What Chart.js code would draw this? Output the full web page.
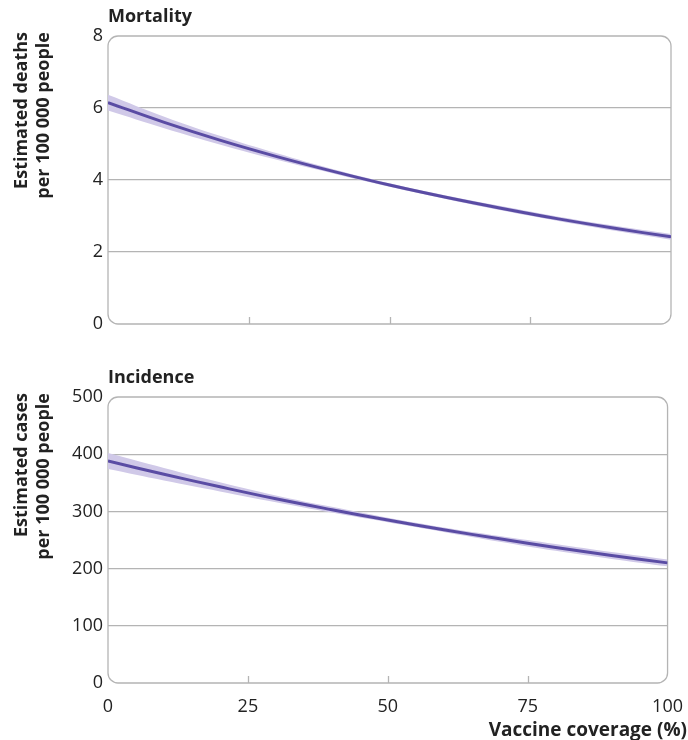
<!DOCTYPE html>
<html>
<head>
<meta charset="utf-8">
<script src="https://cdn.jsdelivr.net/npm/chart.js@4"></script>
<style>
  body { margin: 0; background: #fff; }
  #wrap { position: relative; width: 688px; height: 740px; }
  canvas { position: absolute; left: 0; }
  #mortality { top: 0; }
  #incidence { top: 360px; }
</style>
</head>
<body>
<div id="wrap">
  <canvas id="mortality" width="688" height="360"></canvas>
  <canvas id="incidence" width="688" height="380"></canvas>
</div>
<script>
// ===== Data =====
const coverage = [0, 10, 20, 30, 40, 50, 60, 70, 80, 90, 100];
const xTicks = [0, 25, 50, 75, 100];

const deaths      = [6.15, 5.60, 5.10, 4.65, 4.24, 3.86, 3.52, 3.21, 2.92, 2.66, 2.42];
const deathsLower = [5.93, 5.44, 4.98, 4.56, 4.18, 3.81, 3.47, 3.15, 2.86, 2.59, 2.34];
const deathsUpper = [6.37, 5.76, 5.22, 4.74, 4.30, 3.91, 3.57, 3.27, 2.98, 2.73, 2.50];

const cases      = [388, 365, 343, 322, 303, 285, 268, 252, 237, 223, 210];
const casesLower = [374, 354, 335, 316, 298, 281, 264, 247, 231, 217, 204];
const casesUpper = [402, 376, 351, 328, 308, 289, 272, 257, 243, 229, 216];

const deathTicks = [0, 2, 4, 6, 8];
const caseTicks = [0, 100, 200, 300, 400, 500];

const LINE = '#5a4ca4';
const BAND = '#d0c9e8';
const FRAME = '#b4b4b4';
const TEXT = '#222';
const FONT = '"Open Sans", "Noto Sans", sans-serif';

const toPoints = (ys) => coverage.map((x, i) => ({ x: x, y: ys[i] }));

// Rounded frame, inner tick marks, panel title and y axis title
const panelDecor = {
    id: 'panelDecor',
    beforeDatasetsDraw(chart, args, opts) {
        const { ctx, chartArea: a } = chart;
        const xs = chart.scales.x;
        ctx.save();
        ctx.strokeStyle = FRAME;
        ctx.lineWidth = 1.3;
        ctx.beginPath();
        ctx.roundRect(a.left, a.top, a.right - a.left, a.bottom - a.top, 10);
        ctx.stroke();
        ctx.beginPath();
        [25, 50, 75].forEach(v => {
            const px = Math.round(xs.getPixelForValue(v)) + 0.5;
            ctx.moveTo(px, a.bottom);
            ctx.lineTo(px, a.bottom - 7);
        });
        ctx.stroke();
        ctx.restore();
    },
    afterDraw(chart, args, opts) {
        const { ctx, chartArea: a } = chart;
        ctx.save();
        ctx.fillStyle = TEXT;
        ctx.font = 'bold 18px ' + FONT;
        ctx.textBaseline = 'alphabetic';
        ctx.textAlign = 'left';
        ctx.fillText(opts.title, a.left, a.top - 14);

        ctx.rotate(-Math.PI / 2);
        ctx.textAlign = 'right';
        ctx.textBaseline = 'middle';
        ctx.fillText(opts.yTitle[0], -(a.top - 4), 22);
        ctx.fillText(opts.yTitle[1], -(a.top - 4), 44);
        ctx.restore();

        if (opts.xTitle) {
            ctx.save();
            ctx.fillStyle = TEXT;
            ctx.font = 'bold 19px ' + FONT;
            ctx.textAlign = 'right';
            ctx.textBaseline = 'middle';
            ctx.fillText(opts.xTitle, chart.width - 1, chart.height - 9);
            ctx.restore();
        }
    }
};

function buildChart(canvasId, cfg) {
    return new Chart(document.getElementById(canvasId), {
        type: 'line',
        data: {
            datasets: [
                {
                    data: toPoints(cfg.upper),
                    borderWidth: 0,
                    pointRadius: 0,
                    backgroundColor: BAND,
                    fill: '+1',
                    tension: 0.4,
                    order: 2
                },
                {
                    data: toPoints(cfg.lower),
                    borderWidth: 0,
                    pointRadius: 0,
                    fill: false,
                    tension: 0.4,
                    order: 2
                },
                {
                    data: toPoints(cfg.mid),
                    borderColor: LINE,
                    borderWidth: 3,
                    pointRadius: 0,
                    fill: false,
                    tension: 0.4,
                    order: 0
                }
            ]
        },
        options: {
            responsive: false,
            animation: false,
            events: [],
            layout: { padding: { left: 0, right: 17, top: cfg.top, bottom: 0 } },
            plugins: {
                legend: { display: false },
                tooltip: { enabled: false },
                panelDecor: { title: cfg.title, yTitle: cfg.yTitle, xTitle: cfg.xTitle }
            },
            scales: {
                x: {
                    type: 'linear',
                    min: 0,
                    max: 100,
                    afterBuildTicks: (s) => { s.ticks = xTicks.map(v => ({ value: v })); },
                    afterFit: (s) => { s.height = cfg.xHeight; },
                    grid: { display: false },
                    border: { display: false },
                    ticks: {
                        display: cfg.showX,
                        color: TEXT,
                        padding: 5,
                        maxRotation: 0,
                        font: { family: FONT, size: 18 }
                    }
                },
                y: {
                    min: 0,
                    max: cfg.yTicks[cfg.yTicks.length - 1],
                    afterBuildTicks: (s) => { s.ticks = cfg.yTicks.map(v => ({ value: v })); },
                    afterFit: (s) => { s.width = 108; },
                    border: { display: false },
                    grid: {
                        drawTicks: false,
                        lineWidth: 1.2,
                        color: (c) => (c.tick && (c.tick.value === 0 || c.tick.value === cfg.yTicks[cfg.yTicks.length - 1]))
                            ? 'rgba(0,0,0,0)' : FRAME
                    },
                    ticks: {
                        color: TEXT,
                        padding: 5,
                        font: { family: FONT, size: 18 }
                    }
                }
            }
        },
        plugins: [panelDecor]
    });
}

buildChart('mortality', {
    mid: deaths, lower: deathsLower, upper: deathsUpper,
    yTicks: deathTicks,
    title: 'Mortality',
    yTitle: ['Estimated deaths', 'per 100 000 people'],
    top: 36, xHeight: 36, showX: false
});

buildChart('incidence', {
    mid: cases, lower: casesLower, upper: casesUpper,
    yTicks: caseTicks,
    title: 'Incidence',
    yTitle: ['Estimated cases', 'per 100 000 people'],
    xTitle: 'Vaccine coverage (%)',
    top: 37, xHeight: 57, showX: true
});
</script>
</body>
</html>
